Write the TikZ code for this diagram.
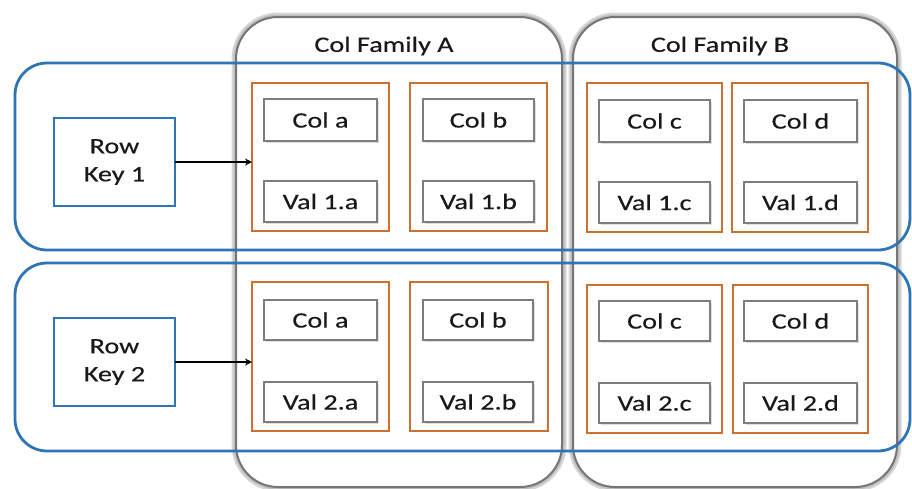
\documentclass[tikz,border=0pt]{standalone}
\usepackage{fontspec}
\newfontfamily\lblfont[FakeStretch=1.28,FakeBold=0.4]{Carlito}
\usetikzlibrary{shadows,arrows.meta}
\definecolor{rowblue}{RGB}{46,117,182}
\definecolor{famgray}{RGB}{118,118,118}
\definecolor{cellorange}{RGB}{204,112,48}
\definecolor{cellgray}{RGB}{125,125,125}
\definecolor{ink}{RGB}{25,25,25}

% box node from its corner coordinates: style, name, x1, y1, x2, y2, text
\newcommand\boxat[7]{%
  \node[#1, minimum width={(#5-#3)*1pt}, minimum height={(#6-#4)*1pt}]
    (#2) at ({(#3+#5)/2},{(#4+#6)/2}) {#7};}

\begin{document}
\begin{tikzpicture}[x=1pt,y=-1pt,
  every node/.style={inner sep=0pt, outer sep=0pt, text=ink,
    font=\lblfont\fontsize{22}{28}\selectfont},
  family/.style={draw=famgray, line width=2pt, fill=white, rounded corners=42pt,
    preaction={draw=black!16, line width=9pt},
    preaction={draw=black!26, line width=5pt}},
  rowband/.style={draw=rowblue, line width=2.8pt, rounded corners=32pt},
  keybox/.style={draw=rowblue, line width=2.8pt, align=center},
  cellbox/.style={draw=cellorange, line width=2.8pt},
  entry/.style={draw=cellgray, line width=2.8pt, fill=white,
    drop shadow={shadow xshift=1.5pt, shadow yshift=-1.5pt, opacity=.25}},
  keyarrow/.style={draw=black, line width=1.6pt, -{Stealth[length=7pt,width=7pt]}}
]
\useasboundingbox (0,0) rectangle (912,488);

% column families
\boxat{family}{famA}{236}{17}{562}{487}{}
\boxat{family}{famB}{573}{17}{897}{487}{}
\node (famAlbl) at (384,46) {Col Family A};
\node (famBlbl) at (720,46) {Col Family B};

% row bands
\boxat{rowband}{row1}{15}{63}{910}{250}{}
\boxat{rowband}{row2}{15}{263}{910}{451}{}

% row keys
\boxat{keybox}{key1}{54}{118}{175}{206}{Row\\Key 1}
\boxat{keybox}{key2}{54}{318}{175}{406}{Row\\Key 2}

% row 1 cells
\boxat{cellbox}{c1a}{252}{83}{389}{231}{}
\boxat{cellbox}{c1b}{410}{83}{547}{231}{}
\boxat{cellbox}{c1c}{587}{83}{722}{232}{}
\boxat{cellbox}{c1d}{732}{83}{868}{232}{}
\boxat{entry}{n1a}{264}{99}{377}{141}{Col a}
\boxat{entry}{n1b}{423}{99}{534}{141}{Col b}
\boxat{entry}{n1c}{599}{100}{710}{142}{Col c}
\boxat{entry}{n1d}{744}{100}{857}{142}{Col d}
\boxat{entry}{v1a}{264}{181}{377}{222}{Val 1.a}
\boxat{entry}{v1b}{423}{181}{534}{222}{Val 1.b}
\boxat{entry}{v1c}{599}{182}{710}{223}{Val 1.c}
\boxat{entry}{v1d}{744}{182}{857}{223}{Val 1.d}

% row 2 cells
\boxat{cellbox}{c2a}{252}{282}{389}{431}{}
\boxat{cellbox}{c2b}{410}{282}{548}{431}{}
\boxat{cellbox}{c2c}{587}{285}{722}{433}{}
\boxat{cellbox}{c2d}{733}{285}{868}{433}{}
\boxat{entry}{n2a}{264}{300}{377}{340}{Col a}
\boxat{entry}{n2b}{423}{300}{533}{340}{Col b}
\boxat{entry}{n2c}{599}{301}{710}{341}{Col c}
\boxat{entry}{n2d}{744}{301}{857}{341}{Col d}
\boxat{entry}{v2a}{264}{382}{377}{422}{Val 2.a}
\boxat{entry}{v2b}{423}{382}{533}{422}{Val 2.b}
\boxat{entry}{v2c}{599}{383}{710}{423}{Val 2.c}
\boxat{entry}{v2d}{744}{383}{857}{423}{Val 2.d}

% row keys point at their first cell
\draw[keyarrow] (key1.east) -- (key1.east -| c1a.west);
\draw[keyarrow] (key2.east) -- (key2.east -| c2a.west);
\end{tikzpicture}
\end{document}
